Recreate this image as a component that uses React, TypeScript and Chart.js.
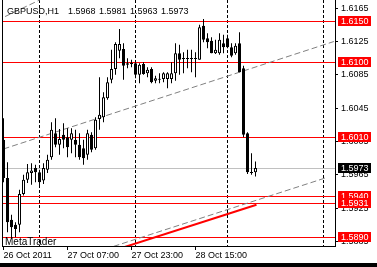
import React, { useEffect, useRef } from "react";
import { Chart, registerables } from "chart.js";

Chart.register(...registerables);

// ---- data (GBPUSD H1, one bar per hour) ----
const opens = [
  1.6007, 1.5961, 1.5911, 1.5905, 1.5905, 1.5942, 1.5959, 1.5967, 1.5973, 1.5968,
  1.5958, 1.5971, 1.5986, 1.6015, 1.6001, 1.6013, 1.6010, 1.6007, 1.6007, 1.6001,
  1.5997, 1.5989, 1.6013, 1.5997, 1.6032, 1.6034, 1.6057, 1.6079, 1.6092, 1.6114,
  1.6116, 1.6099, 1.6099, 1.6099, 1.6085, 1.6098, 1.6087, 1.6092, 1.6078, 1.6080,
  1.6080, 1.6080, 1.6080, 1.6087, 1.6111, 1.6105, 1.6105, 1.6105, 1.6105, 1.6103,
  1.6144, 1.6129, 1.6126, 1.6111, 1.6111, 1.6123, 1.6129, 1.6118, 1.6111, 1.6123,
  1.6093, 1.6015, 1.5968, 1.5968,
];
const highs = [
  1.6033, 1.5980, 1.5917, 1.5908, 1.5947, 1.5965, 1.5978, 1.5979, 1.5977, 1.5971,
  1.5979, 1.5989, 1.6028, 1.6033, 1.6020, 1.6027, 1.6021, 1.6021, 1.6019, 1.6015,
  1.6007, 1.6019, 1.6016, 1.6034, 1.6082, 1.6064, 1.6082, 1.6115, 1.6124, 1.6140,
  1.6123, 1.6105, 1.6103, 1.6100, 1.6099, 1.6100, 1.6094, 1.6094, 1.6084, 1.6087,
  1.6088, 1.6088, 1.6100, 1.6123, 1.6121, 1.6112, 1.6115, 1.6115, 1.6112, 1.6145,
  1.6152, 1.6135, 1.6130, 1.6127, 1.6135, 1.6133, 1.6133, 1.6123, 1.6123, 1.6136,
  1.6096, 1.6016, 1.5991, 1.5981,
];
const lows = [
  1.5956, 1.5896, 1.5888, 1.5890, 1.5896, 1.5940, 1.5955, 1.5953, 1.5956, 1.5950,
  1.5954, 1.5967, 1.5983, 1.5998, 1.5989, 1.5997, 1.5986, 1.5991, 1.5986, 1.5983,
  1.5977, 1.5983, 1.5992, 1.5995, 1.6019, 1.6028, 1.6055, 1.6075, 1.6085, 1.6105,
  1.6079, 1.6093, 1.6094, 1.6081, 1.6075, 1.6085, 1.6082, 1.6075, 1.6075, 1.6075,
  1.6076, 1.6069, 1.6075, 1.6078, 1.6085, 1.6087, 1.6093, 1.6088, 1.6082, 1.6103,
  1.6124, 1.6117, 1.6111, 1.6110, 1.6109, 1.6111, 1.6117, 1.6106, 1.6109, 1.6088,
  1.6010, 1.5966, 1.5965, 1.5963,
];
const closes = [
  1.5961, 1.5908, 1.5902, 1.5900, 1.5942, 1.5959, 1.5968, 1.5970, 1.5968, 1.5956,
  1.5973, 1.5983, 1.6019, 1.6001, 1.6008, 1.6007, 1.5998, 1.6015, 1.6001, 1.5986,
  1.5985, 1.6015, 1.5995, 1.6031, 1.6037, 1.6058, 1.6076, 1.6092, 1.6122, 1.6122,
  1.6096, 1.6097, 1.6098, 1.6085, 1.6097, 1.6086, 1.6091, 1.6076, 1.6081, 1.6079,
  1.6087, 1.6087, 1.6087, 1.6111, 1.6103, 1.6104, 1.6104, 1.6104, 1.6104, 1.6142,
  1.6127, 1.6124, 1.6111, 1.6115, 1.6127, 1.6118, 1.6118, 1.6108, 1.6120, 1.6088,
  1.6013, 1.5968, 1.5967, 1.5973,
];

const xTickBars = [0, 16, 32, 48];
const xTickLabels = ["26 Oct 2011", "27 Oct 07:00", "27 Oct 23:00", "28 Oct 15:00"];
const xRange = [-0.375, 82.875];
const yTickValues = [1.6165, 1.6125, 1.6085, 1.6045, 1.6005, 1.5965, 1.5925, 1.5885];
const yRange = [1.58795, 1.617485];
const vGridBars = [9, 33, 56, 80];
const redLevels = [1.615, 1.61, 1.601, 1.594, 1.5931, 1.589];
const currentPrice = 1.5973;
const headerSymbol = "GBPUSD,H1";
const headerValues = [1.5968, 1.5981, 1.5963, 1.5973];
const watermark = "MetaTrader";

const upperTrendBars = [0, 82.6];
const upperTrendPrices = [1.5996, 1.6125];
const lowerTrendBars = [27.5, 81];
const lowerTrendPrices = [1.5879, 1.5962];
const redTrendBars = [27.5, 63.25];
const redTrendPrices = [1.5874, 1.5929];
const cornerTrendBars = [0.4, 9.1];
const cornerTrendPrices = [1.6155, 1.6175];

const FONT = '"Liberation Sans", Arial, sans-serif';

const overlay = {
  id: "mt4overlay",
  beforeDatasetsDraw(chart: any) {
    const { ctx, chartArea: a, scales } = chart;
    const x = scales.x;
    const y = scales.y;
    ctx.save();
    ctx.beginPath();
    ctx.rect(a.left, a.top, a.right - a.left, a.bottom - a.top);
    ctx.clip();

    // vertical dashed grid
    ctx.strokeStyle = "#000";
    ctx.lineWidth = 1;
    ctx.setLineDash([3, 2]);
    vGridBars.forEach((b) => {
      const px = Math.floor(x.getPixelForValue(b)) + 0.5;
      ctx.beginPath();
      ctx.moveTo(px, a.top);
      ctx.lineTo(px, a.bottom);
      ctx.stroke();
    });
    ctx.setLineDash([]);

    // current price line
    const cp = Math.round(y.getPixelForValue(currentPrice)) + 0.5;
    ctx.strokeStyle = "#c0c0c0";
    ctx.beginPath();
    ctx.moveTo(a.left, cp);
    ctx.lineTo(a.right, cp);
    ctx.stroke();

    // red horizontal levels
    ctx.strokeStyle = "#ff0000";
    redLevels.forEach((v) => {
      const py = Math.round(y.getPixelForValue(v)) + 0.5;
      ctx.beginPath();
      ctx.moveTo(a.left, py);
      ctx.lineTo(a.right, py);
      ctx.stroke();
    });

    const seg = (bars: number[], prices: number[]) => {
      ctx.beginPath();
      ctx.moveTo(x.getPixelForValue(bars[0]), y.getPixelForValue(prices[0]));
      ctx.lineTo(x.getPixelForValue(bars[1]), y.getPixelForValue(prices[1]));
      ctx.stroke();
    };

    // dashed gray trend lines
    ctx.strokeStyle = "#808080";
    ctx.lineWidth = 1;
    ctx.setLineDash([6, 3]);
    seg(upperTrendBars, upperTrendPrices);
    seg(lowerTrendBars, lowerTrendPrices);
    seg(cornerTrendBars, cornerTrendPrices);
    ctx.setLineDash([]);

    // red solid trend line
    ctx.strokeStyle = "#ff0000";
    ctx.lineWidth = 2;
    seg(redTrendBars, redTrendPrices);

    ctx.restore();
  },
  afterDraw(chart: any) {
    const { ctx, chartArea: a, scales } = chart;
    const y = scales.y;
    ctx.save();

    // left frame line
    ctx.fillStyle = "#000";
    ctx.fillRect(a.left, 0, 1, a.bottom);

    // header
    ctx.font = `9px ${FONT}`;
    ctx.textBaseline = "alphabetic";
    ctx.textAlign = "left";
    ctx.fillStyle = "#000";
    ctx.fillText(headerSymbol, 7, 14);
    let hx = 68;
    headerValues.forEach((v) => {
      const t = v.toFixed(4);
      ctx.fillText(t, hx, 14);
      hx += ctx.measureText(t).width + 3.5;
    });

    // watermark
    ctx.font = `10px ${FONT}`;
    ctx.fillText(watermark, 5, 245);

    // price labels on axis
    ctx.font = `9px ${FONT}`;
    ctx.textBaseline = "middle";
    const tag = (v: number, bg: string) => {
      const py = Math.round(y.getPixelForValue(v));
      ctx.fillStyle = bg;
      ctx.fillRect(338, py - 5, 33, 10);
      ctx.fillStyle = "#fff";
      ctx.fillText(v.toFixed(4), 341, py + 0.5);
    };
    redLevels.forEach((v) => tag(v, "#ff0000"));
    tag(currentPrice, "#000000");

    // bottom strip
    ctx.fillStyle = "#000";
    ctx.fillRect(0, 263, chart.width, 4);
    ctx.restore();
  },
};

export default function App() {
  const ref = useRef<HTMLCanvasElement>(null);
  useEffect(() => {
    document.body.style.margin = "0";
    const canvas = ref.current!;
    const bodies = opens.map((o, i) => ({ x: i, y: [o, closes[i]] }));
    const wicks = lows.map((l, i) => ({ x: i, y: [l, highs[i]] }));
    const bodyColors = opens.map((o, i) => (closes[i] >= o ? "#ffffff" : "#000000"));

    const chart = new Chart(canvas, {
      type: "bar",
      data: {
        datasets: [
          {
            data: wicks as any,
            backgroundColor: "#000",
            borderWidth: 0,
            barThickness: 1,
            grouped: false,
            inflateAmount: 0,
            order: 2,
          } as any,
          {
            data: bodies as any,
            backgroundColor: bodyColors,
            borderColor: "#000",
            borderWidth: 1,
            borderSkipped: false,
            barThickness: 3,
            grouped: false,
            inflateAmount: 0,
            minBarLength: 1,
            order: 1,
          } as any,
        ],
      },
      options: {
        responsive: false,
        animation: false,
        devicePixelRatio: 1,
        layout: { padding: { left: 2, top: 0, right: 0, bottom: 0 } },
        plugins: {
          legend: { display: false },
          tooltip: { enabled: false },
        },
        scales: {
          x: {
            type: "linear",
            position: "bottom",
            min: xRange[0],
            max: xRange[1],
            offset: false,
            grid: {
              display: true,
              offset: false,
              drawOnChartArea: false,
              drawTicks: true,
              tickLength: 4,
              color: "#000",
            },
            border: { display: true, color: "#000", width: 1 },
            ticks: {
              autoSkip: false,
              maxRotation: 0,
              minRotation: 0,
              align: "start",
              padding: 0,
              color: "#000",
              font: { family: FONT, size: 9 },
              callback: (v: any) => {
                const k = xTickBars.indexOf(Number(v));
                return k >= 0 ? xTickLabels[k] : "";
              },
            },
            afterBuildTicks: (s: any) => {
              s.ticks = xTickBars.map((v) => ({ value: v }));
            },
            afterFit: (s: any) => {
              s.height = 21;
              s.paddingLeft = 0;
              s.paddingRight = 0;
            },
          } as any,
          y: {
            type: "linear",
            position: "right",
            min: yRange[0],
            max: yRange[1],
            beginAtZero: false,
            grid: { drawOnChartArea: false, tickLength: 3, color: "#000" },
            border: { display: true, color: "#000", width: 1 },
            ticks: {
              padding: 3,
              color: "#000",
              font: { family: FONT, size: 9 },
              callback: (v: any) => Number(v).toFixed(4),
            },
            afterBuildTicks: (s: any) => {
              s.ticks = yTickValues.map((v) => ({ value: v }));
            },
            afterFit: (s: any) => {
              s.width = 42;
              s.paddingTop = 0;
              s.paddingBottom = 0;
            },
          } as any,
        },
      },
      plugins: [overlay],
    });
    return () => chart.destroy();
  }, []);

  return (
    <div style={{ position: "fixed", left: 0, top: 0, width: 377, height: 267, background: "#fff" }}>
      <canvas ref={ref} width={377} height={267} style={{ width: 377, height: 267, display: "block" }} />
    </div>
  );
}
